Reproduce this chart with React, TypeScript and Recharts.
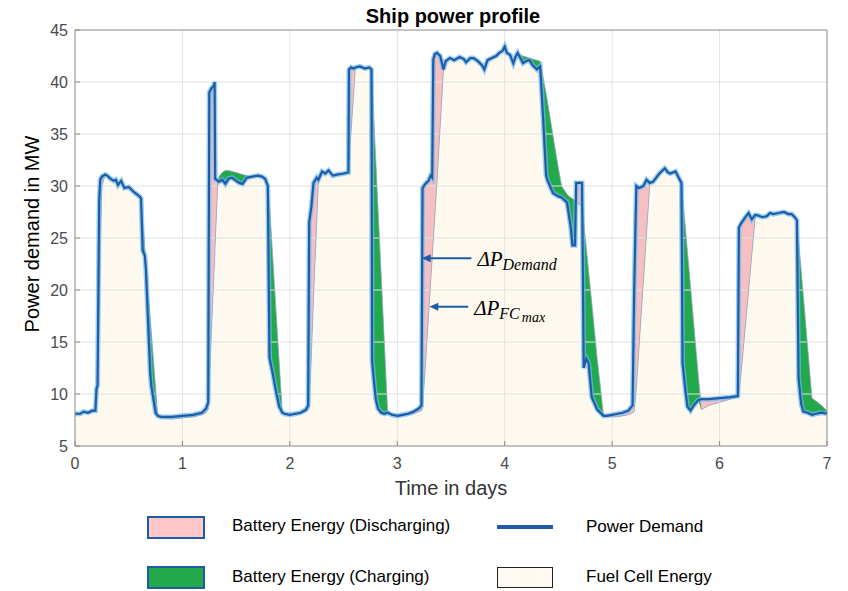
import React from 'react';
import { ComposedChart, Area, Line, XAxis, YAxis, ReferenceLine } from 'recharts';

// Time in days
const time = [
  0.0, 0.05, 0.08, 0.12, 0.16, 0.19, 0.2, 0.21, 0.225, 0.235, 0.25, 0.28, 0.3, 0.33, 0.36, 0.38, 0.4, 0.43, 0.46, 0.5,
  0.55, 0.6, 0.615, 0.63, 0.65, 0.66, 0.7, 0.71, 0.73, 0.75, 0.77, 0.8, 0.9, 1.0, 1.1, 1.18, 1.22, 1.24, 1.25, 1.27,
  1.29, 1.3, 1.305, 1.33, 1.34, 1.37, 1.4, 1.43, 1.46, 1.5, 1.53, 1.56, 1.6, 1.65, 1.7, 1.74, 1.77, 1.795, 1.81, 1.84,
  1.87, 1.9, 1.93, 1.95, 2.0, 2.05, 2.1, 2.15, 2.17, 2.18, 2.2, 2.22, 2.25, 2.265, 2.3, 2.33, 2.36, 2.4, 2.44, 2.5,
  2.545, 2.55, 2.57, 2.59, 2.61, 2.65, 2.7, 2.74, 2.76, 2.765, 2.78, 2.8, 2.82, 2.85, 2.88, 2.91, 2.95, 3.0, 3.05, 3.1,
  3.15, 3.2, 3.225, 3.235, 3.26, 3.29, 3.31, 3.325, 3.335, 3.35, 3.37, 3.4, 3.43, 3.45, 3.49, 3.53, 3.58, 3.62, 3.64, 3.68,
  3.71, 3.75, 3.79, 3.81, 3.84, 3.88, 3.92, 3.95, 3.98, 4.0, 4.02, 4.05, 4.08, 4.1, 4.12, 4.15, 4.17, 4.2, 4.23, 4.26,
  4.3, 4.33, 4.36, 4.385, 4.4, 4.45, 4.5, 4.53, 4.58, 4.6, 4.615, 4.63, 4.655, 4.665, 4.72, 4.735, 4.76, 4.78, 4.81, 4.86,
  4.92, 4.95, 5.0, 5.05, 5.1, 5.15, 5.19, 5.205, 5.225, 5.25, 5.29, 5.32, 5.35, 5.38, 5.44, 5.49, 5.52, 5.54, 5.59, 5.62,
  5.645, 5.655, 5.68, 5.7, 5.73, 5.76, 5.8, 5.83, 5.9, 6.0, 6.1, 6.17, 6.18, 6.2, 6.24, 6.27, 6.3, 6.33, 6.35, 6.4,
  6.44, 6.47, 6.5, 6.55, 6.6, 6.64, 6.67, 6.7, 6.72, 6.735, 6.76, 6.78, 6.82, 6.86, 6.9, 6.95, 7.0,
];

// Power demand in MW
const demand = [
  8.1, 8.1, 8.3, 8.2, 8.4, 8.4, 10.5, 10.8, 28.5, 30.6, 30.9, 31.1, 31.0, 30.7, 30.5, 30.6, 30.1, 30.5, 29.8, 29.9,
  29.4, 29.0, 28.8, 23.8, 23.3, 22.0, 12.0, 10.8, 9.5, 8.2, 7.9, 7.8, 7.8, 7.9, 8.0, 8.2, 8.6, 9.2, 39.0, 39.4,
  39.6, 40.0, 30.7, 30.5, 30.4, 30.6, 30.2, 30.7, 30.8, 30.5, 30.3, 30.2, 30.8, 30.9, 31.0, 30.9, 30.7, 30.0, 13.5, 12.0,
  10.3, 8.8, 8.2, 8.1, 8.0, 8.1, 8.2, 8.5, 8.9, 26.5, 28.0, 30.3, 30.8, 30.6, 31.4, 31.2, 31.5, 31.0, 31.1, 31.2,
  31.3, 41.2, 41.4, 41.3, 41.4, 41.5, 41.3, 41.4, 41.2, 13.2, 11.5, 9.5, 8.6, 8.2, 8.1, 8.2, 8.0, 7.9, 8.0, 8.1,
  8.3, 8.6, 8.9, 29.8, 30.2, 30.5, 31.0, 30.8, 42.2, 42.7, 42.8, 42.5, 41.2, 42.0, 42.3, 42.1, 42.4, 42.2, 41.9, 42.3,
  42.3, 42.0, 41.6, 41.2, 42.1, 42.3, 42.5, 42.8, 43.0, 43.4, 42.8, 42.6, 41.8, 42.4, 42.8, 42.2, 41.8, 42.0, 42.1, 41.6,
  41.2, 41.5, 36.0, 31.0, 30.5, 29.3, 29.0, 28.9, 28.4, 27.0, 26.0, 24.3, 24.3, 30.3, 30.3, 12.5, 13.4, 13.0, 9.7, 8.5,
  7.9, 7.9, 8.0, 8.1, 8.2, 8.4, 8.9, 20.0, 30.0, 29.8, 30.0, 30.6, 30.3, 30.4, 31.2, 31.7, 31.3, 31.2, 31.4, 30.8,
  30.3, 13.0, 10.5, 8.8, 8.4, 8.9, 9.4, 9.5, 9.5, 9.6, 9.7, 9.8, 26.0, 26.4, 27.0, 27.4, 26.8, 27.2, 27.2, 27.0,
  27.1, 27.4, 27.3, 27.4, 27.5, 27.3, 27.3, 27.0, 26.7, 11.5, 9.0, 8.3, 8.2, 8.0, 8.1, 8.2, 8.1,
];

// Fuel cell power in MW
const fuelCell = [
  8.1, 8.1, 8.2, 8.2, 8.3, 8.4, 10.0, 10.6, 18.0, 24.0, 30.0, 31.0, 31.0, 30.7, 30.5, 30.6, 30.1, 30.5, 29.8, 29.9,
  29.4, 29.0, 28.8, 26.8, 24.1, 22.7, 17.3, 16.0, 13.3, 10.6, 7.9, 7.7, 7.6, 7.7, 7.8, 8.0, 8.2, 8.6, 11.0, 15.9,
  20.8, 23.2, 24.5, 30.5, 30.9, 31.3, 31.5, 31.5, 31.4, 31.3, 31.2, 31.1, 31.0, 30.9, 31.0, 30.9, 30.7, 30.0, 28.3, 23.3,
  18.2, 13.2, 8.2, 8.1, 8.0, 8.0, 8.1, 8.3, 8.5, 8.6, 13.6, 19.3, 26.5, 30.4, 31.4, 31.2, 31.5, 31.0, 31.1, 31.2,
  31.3, 32.3, 35.3, 38.3, 41.4, 41.5, 41.3, 41.4, 41.2, 40.1, 36.8, 32.4, 28.0, 21.5, 14.9, 8.3, 8.0, 7.9, 7.9, 8.0,
  8.1, 8.3, 8.4, 8.6, 12.5, 17.4, 20.7, 23.1, 24.8, 27.2, 30.5, 35.9, 41.2, 42.0, 42.3, 42.1, 42.4, 42.2, 41.9, 42.3,
  42.3, 42.0, 41.6, 41.2, 42.1, 42.3, 42.5, 42.8, 43.0, 43.4, 42.8, 42.6, 41.8, 42.4, 42.8, 42.6, 42.5, 42.4, 42.3, 42.2,
  42.1, 42.0, 40.3, 38.9, 38.0, 34.8, 31.7, 30.0, 29.2, 29.0, 28.9, 28.8, 28.6, 28.5, 28.0, 26.6, 24.0, 21.9, 18.8, 13.5,
  7.9, 7.9, 7.8, 7.8, 7.9, 8.0, 8.2, 8.3, 10.5, 14.5, 20.7, 25.4, 30.2, 30.4, 31.2, 31.7, 31.3, 31.2, 31.4, 30.8,
  30.3, 29.1, 26.2, 23.8, 20.3, 16.7, 12.0, 8.5, 8.9, 9.2, 9.5, 9.7, 9.8, 12.0, 16.5, 19.9, 23.4, 26.8, 27.2, 27.0,
  27.1, 27.4, 27.3, 27.4, 27.5, 27.3, 27.3, 27.0, 26.7, 24.9, 21.8, 19.4, 14.5, 9.6, 9.3, 8.9, 8.4,
];

const xTicks = [0, 1, 2, 3, 4, 5, 6, 7];
const yTicks = [5, 10, 15, 20, 25, 30, 35, 40, 45];
const xGrid = [1, 2, 3, 4, 5, 6];
const yGrid = [10, 15, 20, 25, 30, 35, 40];

const rows = time.map((t, i) => ({
  t,
  demand: demand[i],
  fc: fuelCell[i],
  upper: Math.max(demand[i], fuelCell[i]),
  lower: Math.min(demand[i], fuelCell[i]),
}));

const BLUE = '#1f5ca6';
const PINK = '#f6c0c2';
const GREEN = '#22a94b';
const CREAM = '#fef9ee';
const AXIS = '#8a8a8a';
const FONT = '"Liberation Sans", Arial, Helvetica, sans-serif';
const MATH = '"Liberation Serif", "Times New Roman", serif';

const arrowShape = (kind: 'demand' | 'fc') => (props: any) => {
  const { x1, y1, x2, y2 } = props;
  return (
    <g>
      <line x1={x1} y1={y1} x2={x2 + 6} y2={y2} stroke={BLUE} strokeWidth={2} />
      <polygon points={`${x2},${y2} ${x2 + 9},${y2 - 4} ${x2 + 9},${y2 + 4}`} fill={BLUE} />
      {kind === 'demand' ? (
        <text x={x1 + 6} y={y1 + 8} fontFamily={MATH} fontStyle="italic" fontSize={21} fill="#000">
          ΔP<tspan dy={4} fontSize={16}>Demand</tspan>
        </text>
      ) : (
        <text x={x1 + 6} y={y1 + 8} fontFamily={MATH} fontStyle="italic" fontSize={21} fill="#000">
          ΔP<tspan dy={4} fontSize={16}>FC</tspan>
          <tspan dx={2} dy={3} fontSize={14}>max</tspan>
        </text>
      )}
    </g>
  );
};

const legendText: React.CSSProperties = {
  position: 'absolute',
  fontFamily: FONT,
  fontSize: 17,
  color: '#000',
  lineHeight: '20px',
  whiteSpace: 'nowrap',
};

export default function App() {
  return (
    <div style={{ position: 'fixed', left: 0, top: 0, width: 848, height: 591, background: '#fff', overflow: 'hidden' }}>
      <ComposedChart
        width={848}
        height={591}
        data={rows}
        margin={{ top: 29, right: 20, left: 35, bottom: 115 }}
      >
        <XAxis
          xAxisId={0}
          dataKey="t"
          type="number"
          domain={[0, 7]}
          ticks={xTicks}
          interval={0}
          height={30}
          axisLine={{ stroke: AXIS }}
          tickLine={{ stroke: AXIS }}
          tickSize={-5}
          tickMargin={17}
          tick={{ fill: '#4a4a4a', fontSize: 16, fontFamily: FONT }}
        />
        <XAxis
          xAxisId="top"
          dataKey="t"
          type="number"
          orientation="top"
          domain={[0, 7]}
          ticks={xTicks}
          height={1}
          axisLine={{ stroke: AXIS }}
          tickLine={{ stroke: AXIS }}
          tickSize={-5}
          tick={false}
        />
        <YAxis
          yAxisId={0}
          type="number"
          domain={[5, 45]}
          ticks={yTicks}
          interval={0}
          width={40}
          axisLine={{ stroke: AXIS }}
          tickLine={{ stroke: AXIS }}
          tickSize={-5}
          tickMargin={12}
          tick={{ fill: '#4a4a4a', fontSize: 16, fontFamily: FONT }}
        />
        <YAxis
          yAxisId="right"
          orientation="right"
          type="number"
          domain={[5, 45]}
          ticks={yTicks}
          width={1}
          axisLine={{ stroke: AXIS }}
          tickLine={{ stroke: AXIS }}
          tickSize={-5}
          tick={false}
        />
        <Area dataKey="upper" type="linear" stroke="none" fill={PINK} fillOpacity={1} isAnimationActive={false} />
        <Area dataKey="fc" type="linear" stroke="none" fill={GREEN} fillOpacity={1} isAnimationActive={false} />
        <Area dataKey="lower" type="linear" stroke="none" fill={CREAM} fillOpacity={1} isAnimationActive={false} />
        {xGrid.map((v) => (
          <ReferenceLine key={`gx${v}`} x={v} stroke="#e2e2e2" strokeWidth={1} />
        ))}
        {yGrid.map((v) => (
          <ReferenceLine key={`gy${v}`} y={v} stroke="#e2e2e2" strokeWidth={1} />
        ))}
        <Line dataKey="fc" type="linear" stroke="#9aa6c4" strokeWidth={0.8} dot={false} activeDot={false} isAnimationActive={false} />
        <Line dataKey="demand" type="linear" stroke="#6fbaf0" strokeOpacity={0.7} strokeWidth={5} dot={false} activeDot={false} isAnimationActive={false} />
        <Line dataKey="demand" type="linear" stroke={BLUE} strokeWidth={2.2} dot={false} activeDot={false} isAnimationActive={false} />
        <ReferenceLine
          segment={[{ x: 3.69, y: 23.05 }, { x: 3.227, y: 23.05 }]}
          shape={arrowShape('demand')}
        />
        <ReferenceLine
          segment={[{ x: 3.66, y: 18.4 }, { x: 3.298, y: 18.4 }]}
          shape={arrowShape('fc')}
        />
      </ComposedChart>

      <div style={{ position: 'absolute', left: 0, width: 906, top: 5, textAlign: 'center', fontFamily: FONT, fontWeight: 'bold', fontSize: 20, color: '#000' }}>
        Ship power profile
      </div>
      <div style={{ position: 'absolute', left: 75, width: 752, top: 477, textAlign: 'center', fontFamily: FONT, fontSize: 20, color: '#333' }}>
        Time in days
      </div>
      <div
        style={{
          position: 'absolute',
          left: 32,
          top: 234,
          transform: 'translate(-50%, -50%) rotate(-90deg)',
          fontFamily: FONT,
          fontSize: 20,
          color: '#000',
          whiteSpace: 'nowrap',
        }}
      >
        Power demand in MW
      </div>

      {/* Legend */}
      <div style={{ position: 'absolute', left: 147, top: 516, width: 54, height: 19, background: '#ffc7c8', border: `2px solid ${BLUE}` }} />
      <div style={{ ...legendText, left: 232, top: 516 }}>Battery Energy (Discharging)</div>
      <div style={{ position: 'absolute', left: 497, top: 525, width: 56, height: 4, background: BLUE }} />
      <div style={{ ...legendText, left: 586, top: 517 }}>Power Demand</div>

      <div style={{ position: 'absolute', left: 147, top: 566, width: 54, height: 19, background: GREEN, border: `2px solid ${BLUE}` }} />
      <div style={{ ...legendText, left: 232, top: 567 }}>Battery Energy (Charging)</div>
      <div style={{ position: 'absolute', left: 497, top: 567, width: 54, height: 19, background: '#fff9f2', border: '1.5px solid #222' }} />
      <div style={{ ...legendText, left: 586, top: 567 }}>Fuel Cell Energy</div>
    </div>
  );
}
